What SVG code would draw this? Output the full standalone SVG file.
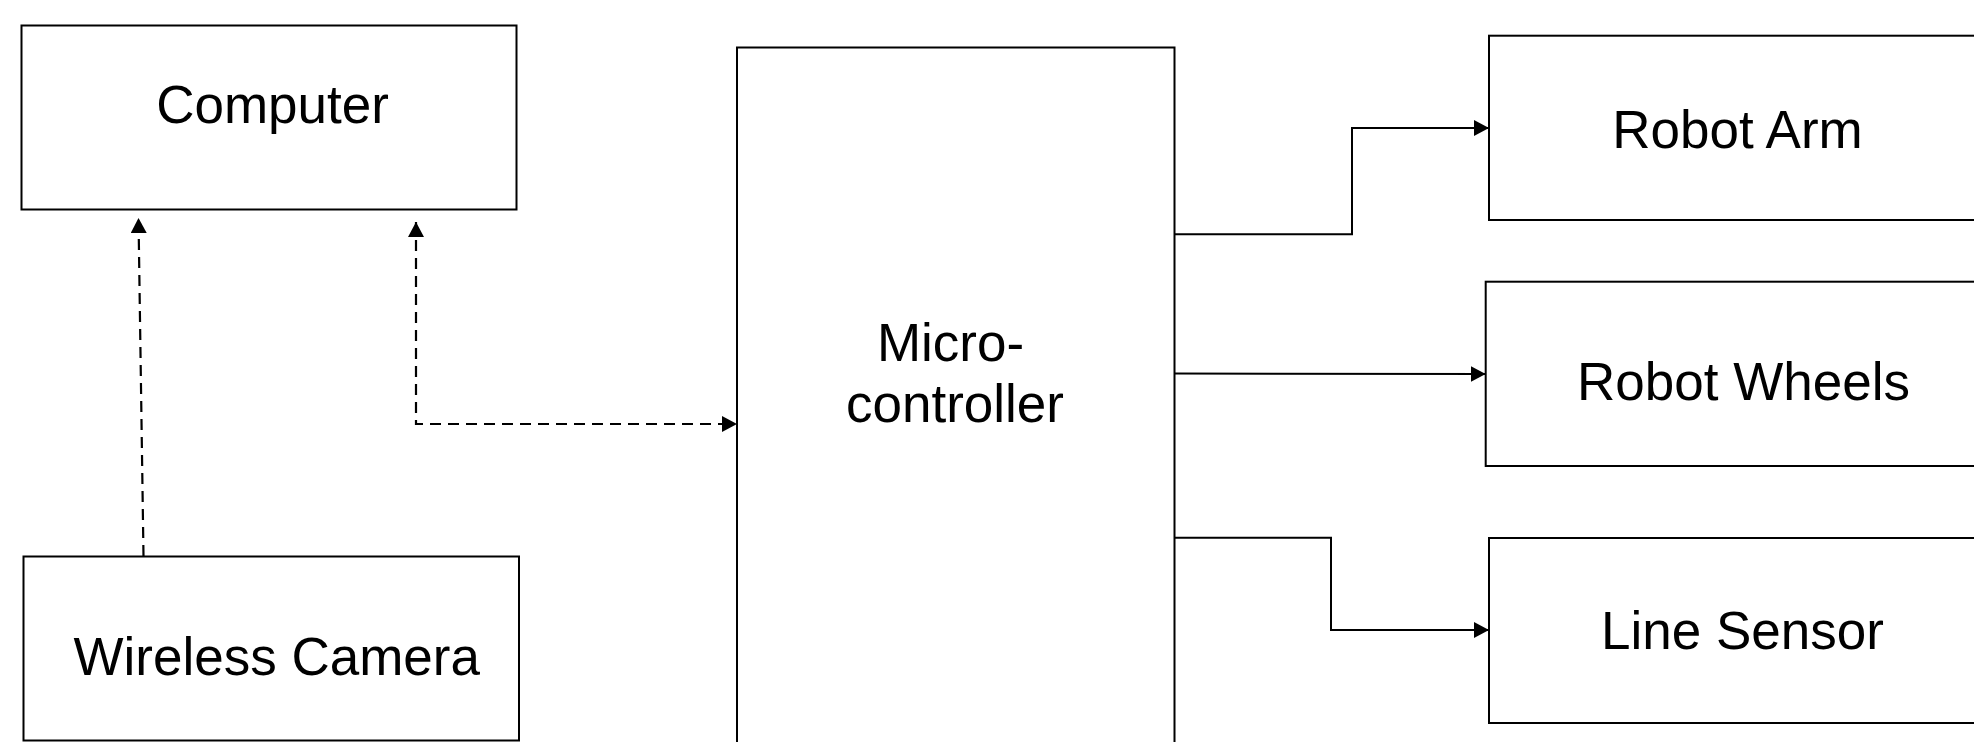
<svg xmlns="http://www.w3.org/2000/svg" width="1974" height="742" viewBox="0 0 1974 742">
<style>
.box{fill:#fff;stroke:#000;stroke-width:2}
.lbl{font-family:"Liberation Sans",Arial,sans-serif;font-size:53px;fill:#000;text-anchor:middle}
.con{fill:none;stroke:#000;stroke-width:2}
.dash{stroke-dasharray:11 7;stroke-width:2.2}
</style>
<defs>
<marker id="arr" markerWidth="15" markerHeight="16" refX="15" refY="8" orient="auto-start-reverse" markerUnits="userSpaceOnUse">
<path d="M0,0 L15,8 L0,16 z" fill="#000"/>
</marker>
</defs>
<rect width="1974" height="742" fill="#fff"/>
<g id="computer">
<rect class="box" x="21.5" y="25.5" width="495" height="184"/>
<text class="lbl" x="272.5" y="122.7">Computer</text>
</g>
<g id="wireless-camera">
<rect class="box" x="23.5" y="556.5" width="495.5" height="184"/>
<text class="lbl" x="276.7" y="675">Wireless Camera</text>
</g>
<g id="microcontroller">
<rect class="box" x="737" y="47.5" width="437.5" height="720"/>
<text class="lbl" x="950.5" y="361">Micro-</text>
<text class="lbl" x="955" y="421.7">controller</text>
</g>
<g id="robot-arm">
<rect class="box" x="1489" y="35.7" width="520" height="184.3"/>
<text class="lbl" x="1737.5" y="148.3">Robot Arm</text>
</g>
<g id="robot-wheels">
<rect class="box" x="1485.7" y="281.7" width="520" height="184.3"/>
<text class="lbl" x="1743.5" y="400">Robot Wheels</text>
</g>
<g id="line-sensor">
<rect class="box" x="1489" y="538" width="520" height="185"/>
<text class="lbl" x="1742.5" y="649">Line Sensor</text>
</g>
<g id="connectors">
<path class="con dash" d="M143.5,556 L138.5,218" marker-end="url(#arr)"/>
<path class="con dash" d="M416,222 L416,424 L737,424" marker-start="url(#arr)" marker-end="url(#arr)"/>
<path class="con" d="M1174.5,234.3 H1352 V128 H1489" marker-end="url(#arr)"/>
<path class="con" d="M1174.5,373.5 L1485.7,374" marker-end="url(#arr)"/>
<path class="con" d="M1174.5,537.7 H1331 V630 H1489" marker-end="url(#arr)"/>
</g>
</svg>
